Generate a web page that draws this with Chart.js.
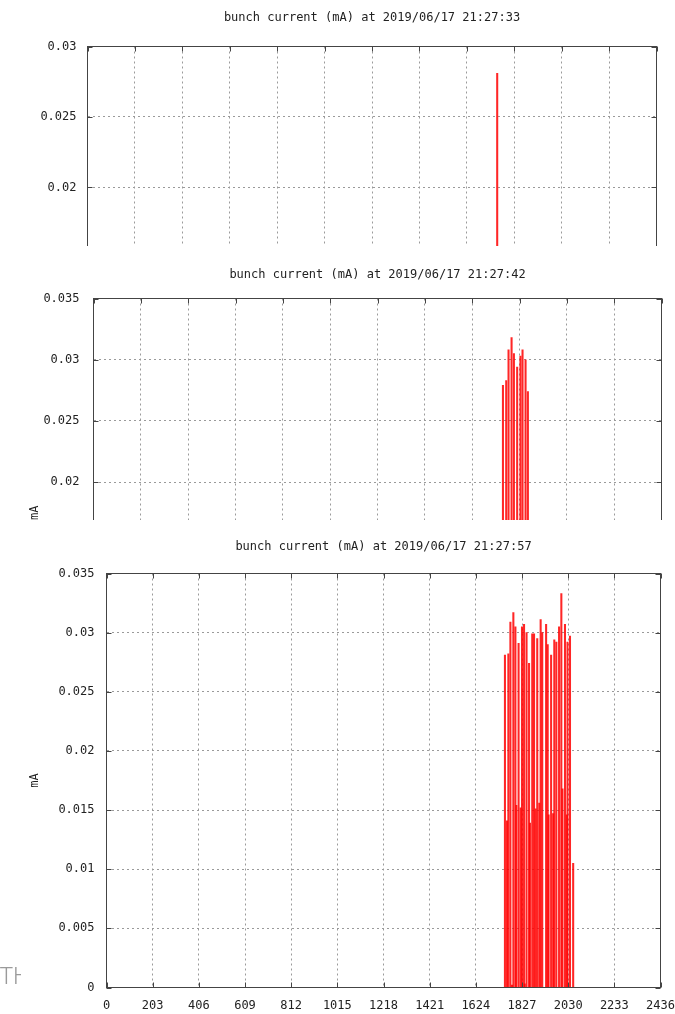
<!DOCTYPE html>
<html>
<head>
<meta charset="utf-8">
<script src="https://cdn.jsdelivr.net/npm/chart.js@4.4.0/dist/chart.umd.min.js"></script>
<style>
  html, body { margin: 0; padding: 0; background: #fff; }
  body { width: 675px; height: 1014px; position: relative; overflow: hidden; }
  .panel { position: absolute; left: 0; width: 675px; overflow: hidden; background: #fff; }
  #p1 { top: 0; height: 246px; }
  #p2 { top: 250px; height: 270px; }
  #p3 { top: 530px; height: 484px; }
  #mark { position: absolute; left: 0; top: 958px; width: 21px; overflow: hidden; white-space: nowrap;
          font: 300 24px 'Noto Sans', sans-serif; color: #9a9a9a; }
</style>
</head>
<body>
<div class="panel" id="p1"><canvas id="chart1" width="675" height="500"></canvas></div>
<div class="panel" id="p2"><canvas id="chart2" width="675" height="510"></canvas></div>
<div class="panel" id="p3"><canvas id="chart3" width="675" height="484"></canvas></div>
<div id="mark">TH</div>
<script>
const bunchMax = 2436;
const bunchStep = 203;

const titles = [
  'bunch current (mA) at 2019/06/17 21:27:33',
  'bunch current (mA) at 2019/06/17 21:27:42',
  'bunch current (mA) at 2019/06/17 21:27:57'
];
const yMax = [0.03, 0.035, 0.035];
const yStep = 0.005;

const shot1Bunch = [1754];
const shot1Current = [0.0281];

const shot2Bunch = [1756, 1770, 1780, 1793, 1803, 1817, 1831, 1840, 1853, 1863];
const shot2Current = [0.0279, 0.0283, 0.0308, 0.0318, 0.0305, 0.0294, 0.0303, 0.0308, 0.0300, 0.0274];

const shot3Bunch = [0, 1752, 1761, 1767, 1776, 1783, 1789, 1798, 1802, 1812, 1821, 1827, 1836, 1839,
  1847, 1858, 1862, 1872, 1880, 1887, 1894, 1903, 1909, 1916, 1933, 1940, 1944, 1955, 1964,
  1969, 1978, 1990, 2000, 2005, 2016, 2024, 2027, 2038, 2052];
const shot3Current = [0.0003, 0.0281, 0.0141, 0.0282, 0.0309, 0.0002, 0.0317, 0.0305, 0.0154, 0.0291,
  0.0152, 0.0305, 0.0307, 0.0003, 0.0300, 0.0274, 0.0139, 0.0299, 0.0299, 0.0151, 0.0295, 0.0156,
  0.0311, 0.0300, 0.0307, 0.0290, 0.0146, 0.0281, 0.0147, 0.0294, 0.0292, 0.0305, 0.0333, 0.0168,
  0.0307, 0.0146, 0.0292, 0.0297, 0.0105];

Chart.defaults.font.family = "'DejaVu Sans Mono', monospace";
Chart.defaults.font.size = 12;
Chart.defaults.color = '#222';

// gnuplot style box with inward ticks on all four sides
const gnuplotFrame = {
  id: 'gnuplotFrame',
  afterDatasetsDraw(chart) {
    const { ctx, chartArea: a, scales: { x, y } } = chart;
    ctx.save();
    ctx.strokeStyle = '#444';
    ctx.lineWidth = 1;
    ctx.beginPath();
    x.ticks.forEach(t => {
      const px = Math.round(x.getPixelForValue(t.value)) + 0.5;
      ctx.moveTo(px, a.bottom); ctx.lineTo(px, a.bottom - 5);
      ctx.moveTo(px, a.top); ctx.lineTo(px, a.top + 5);
    });
    y.ticks.forEach(t => {
      const py = Math.round(y.getPixelForValue(t.value)) + 0.5;
      ctx.moveTo(a.left, py); ctx.lineTo(a.left + 5, py);
      ctx.moveTo(a.right, py); ctx.lineTo(a.right - 5, py);
    });
    ctx.stroke();
    ctx.strokeRect(a.left, a.top, a.right - a.left, a.bottom - a.top);
    ctx.restore();
  }
};

function makeChart(id, bunches, currents, idx, box) {
  const canvas = document.getElementById(id);
  return new Chart(canvas, {
    type: 'bar',
    data: {
      datasets: [{
        data: bunches.map((b, i) => ({ x: b, y: currents[i] })),
        backgroundColor: 'rgba(255, 0, 0, 0.85)',
        barThickness: 1.4,
        borderWidth: 0
      }]
    },
    options: {
      responsive: false,
      animation: false,
      devicePixelRatio: 1,
      layout: { padding: { left: 0, right: 675 - box.right, top: 0, bottom: 0 } },
      plugins: {
        legend: { display: false },
        tooltip: { enabled: false },
        title: {
          display: true,
          text: titles[idx],
          fullSize: false,
          color: '#222',
          font: { size: 12, weight: 'normal' },
          padding: { top: box.titleY - 7.2, bottom: box.top - box.titleY - 7.2 }
        }
      },
      scales: {
        x: {
          type: 'linear',
          min: 0,
          max: bunchMax,
          offset: false,
          grid: { offset: false, color: '#9a9a9a', drawTicks: false },
          border: { display: false, dash: [2, 3] },
          ticks: { stepSize: bunchStep, padding: 11, maxRotation: 0, autoSkip: false,
                   callback: v => String(v) },
          afterFit: s => {
            s.height = canvas.height - box.bottom;
            s.paddingLeft = 0; s.paddingRight = 0;
          }
        },
        y: {
          min: 0,
          max: yMax[idx],
          grid: { color: '#9a9a9a', drawTicks: false },
          border: { display: false, dash: [2, 3] },
          ticks: {
            stepSize: yStep,
            padding: box.tickPad,
            callback: v => String(+v.toFixed(4))
          },
          title: {
            display: true,
            text: 'mA',
            color: '#222',
            font: { size: 12 },
            padding: { top: 27.8, bottom: 0 }
          },
          afterFit: s => {
            s.width = box.left;
            s.paddingTop = 0; s.paddingBottom = 0;
          }
        }
      }
    },
    plugins: [gnuplotFrame]
  });
}

makeChart('chart1', shot1Bunch, shot1Current, 0,
  { left: 87.5, right: 656.5, top: 46.5, bottom: 469.5, titleY: 18, tickPad: 11 });
makeChart('chart2', shot2Bunch, shot2Current, 1,
  { left: 93.5, right: 661.5, top: 48.5, bottom: 477, titleY: 25, tickPad: 14 });
makeChart('chart3', shot3Bunch, shot3Current, 2,
  { left: 106.5, right: 660.5, top: 43.5, bottom: 457.5, titleY: 17, tickPad: 12 });
</script>
</body>
</html>
